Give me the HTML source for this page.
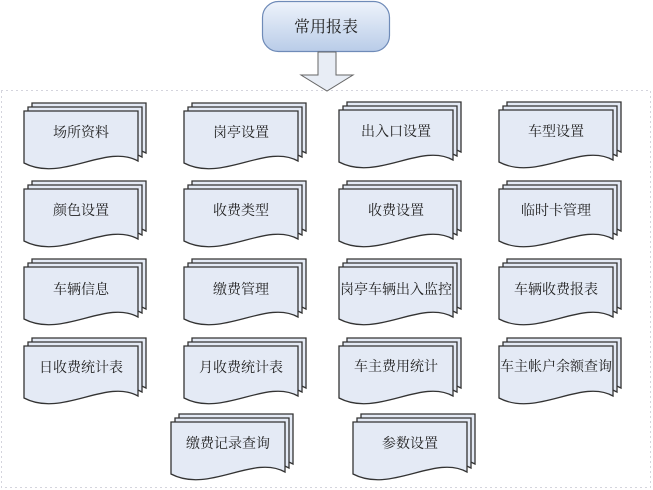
<!DOCTYPE html>
<html><head><meta charset="utf-8"><style>
html,body{margin:0;padding:0;background:#fff;}
svg{display:block;}
text{font-family:"Liberation Serif","Noto Serif CJK SC","Noto Sans CJK SC",serif;font-size:14px;fill:#222;text-anchor:middle;}
</style></head><body>
<svg width="653" height="490" viewBox="0 0 653 490" xmlns="http://www.w3.org/2000/svg">
<defs>
<linearGradient id="hg" x1="0" y1="0" x2="0" y2="1">
<stop offset="0" stop-color="#eef3fb"/><stop offset="1" stop-color="#b9cce8"/>
</linearGradient>
<path id="d" d="M0,0 H114 V50 C82,32 38,72 0,52 Z" fill="#e4eaf5" stroke="#333" stroke-width="1.3"/>
<g id="doc">
<use href="#d" x="8" y="-8"/>
<use href="#d" x="4" y="-4"/>
<use href="#d" x="0" y="0"/>
</g>
</defs>
<rect x="1.5" y="90.5" width="649" height="397" fill="none" stroke="#aab" stroke-width="1" stroke-dasharray="1,4"/>
<rect x="262.5" y="1.5" width="127" height="50" rx="16" fill="url(#hg)" stroke="#6f8bb8" stroke-width="1.2"/>
<text x="326" y="32" style="font-size:16px">常用报表</text>
<path d="M318,52 H336 V75 H353 L327,91 L301,75 H318 Z" fill="#e8edf5" stroke="#666" stroke-width="1"/>

<use href="#doc" x="24" y="111"/><text x="81" y="137">场所资料</text>
<use href="#doc" x="184" y="111"/><text x="241" y="137">岗亭设置</text>
<use href="#doc" x="339" y="110"/><text x="396" y="136">出入口设置</text>
<use href="#doc" x="499" y="110"/><text x="556" y="136">车型设置</text>

<use href="#doc" x="24" y="189"/><text x="81" y="215">颜色设置</text>
<use href="#doc" x="184" y="189"/><text x="241" y="215">收费类型</text>
<use href="#doc" x="339" y="189"/><text x="396" y="215">收费设置</text>
<use href="#doc" x="499" y="189"/><text x="556" y="215">临时卡管理</text>

<use href="#doc" x="24" y="267"/><text x="81" y="294">车辆信息</text>
<use href="#doc" x="184" y="267"/><text x="241" y="294">缴费管理</text>
<use href="#doc" x="339" y="267"/><text x="396" y="294">岗亭车辆出入监控</text>
<use href="#doc" x="499" y="267"/><text x="556" y="294">车辆收费报表</text>

<use href="#doc" x="24" y="346"/><text x="81" y="372">日收费统计表</text>
<use href="#doc" x="184" y="346"/><text x="241" y="372">月收费统计表</text>
<use href="#doc" x="339" y="346"/><text x="396" y="371">车主费用统计</text>
<use href="#doc" x="499" y="346"/><text x="556" y="371">车主帐户余额查询</text>

<use href="#doc" x="171" y="422"/><text x="228" y="448">缴费记录查询</text>
<use href="#doc" x="353" y="422"/><text x="410" y="448">参数设置</text>
</svg>
</body></html>
